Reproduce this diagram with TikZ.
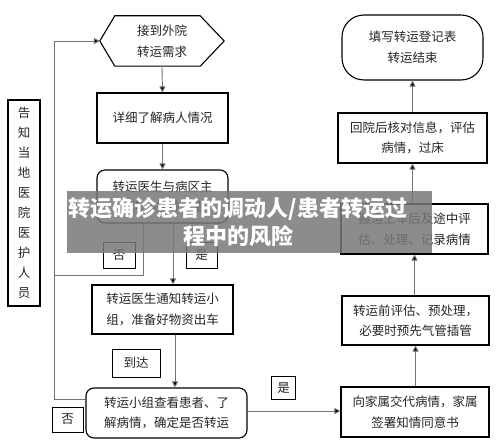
\documentclass[tikz,border=0pt]{standalone}
\usepackage{fontspec}
\newfontfamily\cjk{Noto Sans CJK SC}
\usetikzlibrary{arrows.meta}
\begin{document}
\begin{tikzpicture}[x=1pt,y=-1pt,
  txt/.style={font=\cjk\fontsize{12.5}{20.5}\selectfont, align=center, inner sep=0pt, text=black!85},
  box/.style={txt, draw=black, line width=1.1pt},
  rbox/.style={box, rounded corners=8pt},
  lbl/.style={txt, draw=black, line width=0.9pt},
  conn/.style={draw=black!55, line width=0.9pt},
  arr/.style={conn, -{Triangle[length=6pt,width=6pt,fill=black]}}
]
\useasboundingbox[fill=white] (0,0) rectangle (500,446);

% left column
\node[txt, minimum width=124pt, minimum height=50pt] (hex) at (162,41) {接到外院\\转运需求};
\draw[black, line width=1.1pt] (hex.west) -- ([xshift=15pt]hex.north west) -- ([xshift=-24pt]hex.north east) -- (hex.east) -- ([xshift=-24pt]hex.south east) -- ([xshift=15pt]hex.south west) -- cycle;
\node[box, minimum width=131pt, minimum height=50pt] (detail) at (162.5,118) {详细了解病人情况};
\node[rbox, minimum width=131pt, minimum height=53pt] (doc) at (162.5,196.5) {转运医生与病区主\\任沟通接收患者};
\node[box, minimum width=141pt, minimum height=49pt] (notify) at (162.5,309.5) {转运医生通知转运小\\组，准备好物资出车};
\node[rbox, minimum width=161pt, minimum height=50pt] (check) at (166.5,413) {转运小组查看患者、了\\解病情，确定是否转运};
\node[box, minimum width=32pt, minimum height=206pt, font=\cjk\fontsize{12.5}{20}\selectfont] (tell) at (24,203) {告\\知\\当\\地\\医\\院\\医\\护\\人\\员};

% right column
\node[box, minimum width=148pt, minimum height=50pt] (family) at (415,412) {向家属交代病情，家属\\签署知情同意书};
\node[box, minimum width=147pt, minimum height=49pt] (pre) at (415.5,320.5) {转运前评估、预处理，\\必要时预先气管插管};
\node[box, minimum width=147pt, minimum height=50pt] (carry) at (414.5,229) {搬运上车后及途中评\\估、处理、记录病情};
\node[box, minimum width=149pt, minimum height=50pt] (return) at (412.5,138) {回院后核对信息，评估\\病情，过床};
\node[box, rounded corners=22pt, minimum width=141pt, minimum height=65pt] (end) at (412.5,47.5) {填写转运登记表\\转运结束};

% labels
\node[lbl, minimum width=32pt, minimum height=26pt] (no1) at (119,255) {否};
\node[lbl, minimum width=31pt, minimum height=26pt] (yes1) at (201.5,255) {是};
\node[lbl, minimum width=48pt, minimum height=28pt] (arrive) at (136,363) {到达};
\node[lbl, minimum width=31pt, minimum height=25pt] (no2) at (67.5,419.5) {否};
\node[lbl, minimum width=24pt, minimum height=23pt] (yes2) at (283.5,388) {是};

% helper coordinates
\coordinate (xno) at (143,275);
\coordinate (xloopmid) at (54,275);
\coordinate (xloopbot) at (54,399);
\coordinate (xlooptop) at (54,41);
\coordinate (xyes) at (173,0);
\coordinate (xarr) at (175,0);
\coordinate (xfam) at (0,411);

% connectors
\draw[arr] (hex.south) -- (detail.north);
\draw[arr] (detail.south) -- (doc.north);
\draw[conn] (doc.south -| xno) -- (xno) -- (xloopmid);
\draw[arr] (xloopbot -| check.west) -- (xloopbot) -- (xlooptop) -- (hex.west);
\draw[arr] (doc.south -| xyes) -- (notify.north -| xyes);
\draw[arr] (notify.south -| xarr) -- (check.north -| xarr);
\draw[arr] (check.east |- xfam) -- (family.west |- xfam);
\draw[arr] (family.north -| pre.south) -- (pre.south);
\draw[arr] (pre.north -| carry.south) -- (carry.south);
\draw[arr] (carry.north -| return.south) -- (return.south);
\draw[arr] (return.north -| end.south) -- (end.south);

% overlay banner
\node[fill={rgb,255:red,120;green,120;blue,120}, fill opacity=0.85, minimum width=365pt, minimum height=62pt, inner sep=0pt] (banner) at (249.5,222) {};
\node[font=\cjk\bfseries\fontsize{22}{28}\selectfont, text=white, align=center, inner sep=0pt] (title) at (238,222) {转运确诊患者的调动人/患者转运过\\程中的风险};
\end{tikzpicture}
\end{document}
